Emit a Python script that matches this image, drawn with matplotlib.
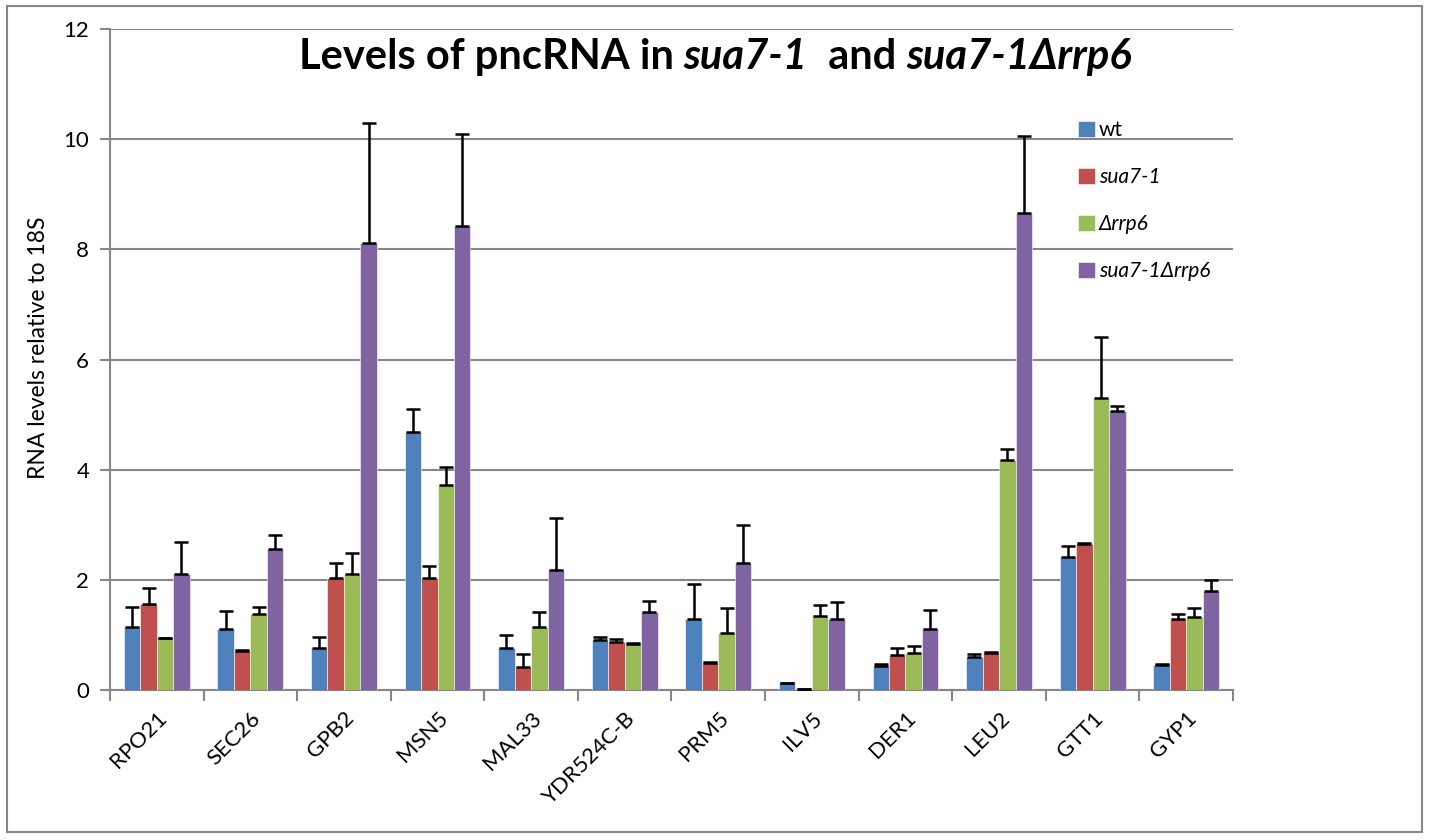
import matplotlib
matplotlib.use("Agg")
import matplotlib.pyplot as plt
import numpy as np
from matplotlib.patches import Rectangle

plt.rcParams['font.family'] = ['Lato', 'DejaVu Sans']

categories = ["RPO21", "SEC26", "GPB2", "MSN5", "MAL33", "YDR524C-B",
              "PRM5", "ILV5", "DER1", "LEU2", "GTT1", "GYP1"]
series_names = ["wt", "sua7-1", "Δrrp6", "sua7-1Δrrp6"]

wt = [1.14, 1.11, 0.77, 4.68, 0.77, 0.91, 1.28, 0.12, 0.43, 0.60, 2.42, 0.45]
wt_err = [0.37, 0.33, 0.19, 0.43, 0.22, 0.05, 0.65, 0.01, 0.05, 0.05, 0.20, 0.03]
sua = [1.56, 0.70, 2.03, 2.03, 0.42, 0.87, 0.49, 0.01, 0.63, 0.67, 2.65, 1.28]
sua_err = [0.29, 0.03, 0.27, 0.23, 0.23, 0.06, 0.02, 0.00, 0.13, 0.02, 0.01, 0.10]
rrp = [0.94, 1.38, 2.11, 3.72, 1.14, 0.84, 1.04, 1.35, 0.67, 4.17, 5.30, 1.32]
rrp_err = [0.01, 0.13, 0.37, 0.32, 0.27, 0.02, 0.44, 0.19, 0.12, 0.20, 1.11, 0.16]
dbl = [2.11, 2.56, 8.12, 8.42, 2.17, 1.42, 2.31, 1.28, 1.11, 8.66, 5.06, 1.80]
dbl_err = [0.57, 0.26, 2.18, 1.68, 0.96, 0.20, 0.68, 0.31, 0.34, 1.39, 0.09, 0.19]

yticks = [0, 2, 4, 6, 8, 10, 12]

values = [wt, sua, rrp, dbl]
errors = [wt_err, sua_err, rrp_err, dbl_err]
colors = ["#4F81BD", "#C0504D", "#9BBB59", "#8064A2"]

W, H = 1430, 840
fig = plt.figure(figsize=(W / 100, H / 100), dpi=100)
ax = fig.add_axes([110 / W, 1 - 690 / H, (1233 - 110) / W, (690 - 29) / H])

x = np.arange(len(categories))
bw = 0.176
handles = []
for i, (vals, errs, c) in enumerate(zip(values, errors, colors)):
    pos = x + (i - 1.5) * bw
    b = ax.bar(pos, vals, width=bw, color=c, edgecolor='white', linewidth=0.4,
               zorder=3, label=series_names[i])
    handles.append(b)
    ax.errorbar(pos, vals, yerr=[np.zeros(len(vals)), errs], fmt='none',
                ecolor='black', elinewidth=1.8, capsize=5, capthick=1.8, zorder=4)

ax.set_xlim(-0.5, len(categories) - 0.5)
ax.set_ylim(0, 12)
ax.set_yticks(yticks)
ax.set_yticklabels([str(t) for t in yticks], fontsize=16)
ax.yaxis.grid(True, color='#878787', linewidth=1.5, zorder=0)
ax.set_axisbelow(True)

ax.set_xticks(x)
ax.set_xticklabels(categories, rotation=45, ha='right', rotation_mode='anchor',
                   fontsize=16)
ax.tick_params(axis='x', which='major', length=0, pad=13)
ax.set_xticks(np.arange(len(categories) + 1) - 0.5, minor=True)
ax.tick_params(axis='x', which='minor', length=8, width=1.5, color='#878787')
ax.tick_params(axis='y', length=7, width=1.5, color='#878787', pad=8)

for s in ['top', 'right']:
    ax.spines[s].set_visible(False)
for s in ['left', 'bottom']:
    ax.spines[s].set_color('#878787')
    ax.spines[s].set_linewidth(1.5)

ax.set_ylabel("RNA levels relative to 18S", fontsize=16.5)
ax.yaxis.set_label_coords(-0.054, (690 - 348) / 661)

leg = ax.legend(handles=handles, labels=series_names, loc='upper left',
                bbox_to_anchor=((1078 - 110) / 1123, (690 - 120) / 661),
                frameon=False, fontsize=15, handlelength=0.8, handleheight=0.8,
                handletextpad=0.2, labelspacing=1.3, borderaxespad=0, borderpad=0)
for t in leg.get_texts()[1:]:
    t.set_fontstyle('italic')

# outer border
fig.patches.append(Rectangle((7 / W, 1 - 832 / H), (1422 - 7) / W, (832 - 6) / H,
                             transform=fig.transFigure, fill=False,
                             edgecolor='#878787', linewidth=1.5))

# title in pieces
pieces = [("Levels of pncRNA in ", 'normal'), ("sua7-1", 'italic'),
          ("  and ", 'normal'), ("sua7-1Δrrp6", 'italic')]
texts = []
prev = None
for s, st in pieces:
    if prev is None:
        t = fig.text(0, 1 - 57 / H, s, fontsize=30, fontweight='bold', style=st,
                     va='center', ha='left')
    else:
        t = ax.annotate(s, xy=(1, 0), xycoords=prev, fontsize=30, fontweight='bold',
                        style=st, va='bottom', ha='left', annotation_clip=False)
    texts.append(t)
    prev = t
fig.canvas.draw()
r = fig.canvas.get_renderer()
x0 = texts[0].get_window_extent(r).x0
x1 = texts[-1].get_window_extent(r).x1
total = x1 - x0
texts[0].set_x((715 - total / 2) / W)

fig.savefig("out.png", dpi=100)
